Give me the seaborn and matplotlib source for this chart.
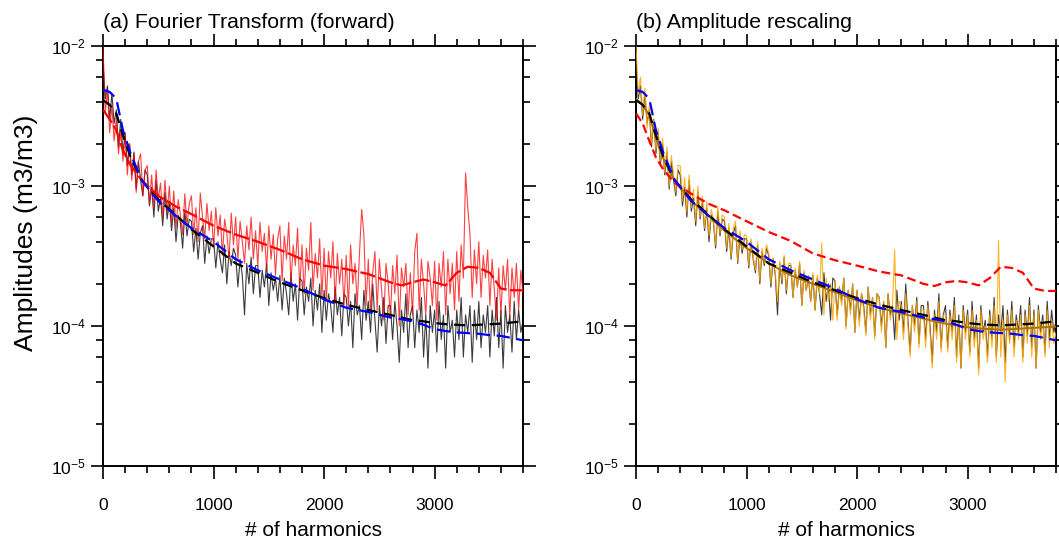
import numpy as np
import matplotlib
matplotlib.use("Agg")
import matplotlib.pyplot as plt
import seaborn as sns
from matplotlib.ticker import MultipleLocator, LogLocator, NullFormatter

# amplitudes are typed in units of 1e-5 m3/m3
UNIT = 1e-5
H_MAX = 3800

# raw spectra, read every 20 harmonics (0 .. 3800), one row = 200 harmonics
black_raw = [
    760, 420, 520, 300, 460, 280, 350, 190, 300, 170,
    240, 140, 200, 120, 175, 95, 150, 110, 85, 130,
    120, 72, 98, 60, 110, 66, 82, 52, 90, 58,
    78, 48, 70, 40, 62, 55, 36, 66, 44, 58,
    56, 34, 50, 30, 46, 52, 28, 44, 33, 42,
    42, 26, 40, 30, 24, 38, 20, 34, 27, 36,
    32, 19, 30, 23, 12, 28, 20, 31, 17, 27,
    27, 16, 25, 19, 28, 14, 24, 18, 22, 15,
    23, 13, 22, 17, 12, 24, 15, 20, 11, 22,
    21, 12, 19, 15, 22, 10, 18, 13, 20, 9,
    18, 11, 17, 14, 9, 19, 12, 16, 8.5, 17,
    16, 10, 15, 7, 17, 12, 14, 8, 18, 11,
    15, 9, 20, 11, 6.5, 14, 10, 16, 7.5, 14,
    14, 8, 15, 10, 5.5, 13, 9, 17, 7, 12,
    14, 7, 13, 9, 16, 6, 12, 5, 14, 9,
    13, 6.5, 15, 8, 12, 5, 14, 9, 11, 6,
    13, 8, 16, 6, 12, 9, 14, 5.5, 13, 8,
    15, 7, 12, 9, 14, 6, 13, 8.5, 16, 7,
    13, 5, 14, 9, 12, 6.5, 15, 8, 13, 9,
    11,
]
red_raw = [
    1000, 330, 480, 240, 380, 210, 300, 170, 250, 150,
    230, 120, 200, 110, 170, 90, 150, 170, 85, 130,
    140, 75, 120, 68, 130, 80, 105, 60, 110, 65,
    100, 55, 92, 50, 80, 62, 45, 88, 52, 75,
    85, 45, 70, 40, 89, 60, 42, 75, 48, 66,
    36, 70, 44, 62, 32, 58, 46, 30, 64, 38,
    60, 30, 56, 40, 28, 52, 35, 60, 30, 48,
    27, 55, 34, 46, 25, 52, 30, 45, 23, 42,
    52, 21, 44, 30, 55, 20, 38, 27, 50, 18,
    38, 17, 36, 25, 55, 18, 33, 22, 42, 16,
    36, 15, 34, 22, 40, 14.5, 33, 20, 30, 14,
    32, 13.5, 38, 20, 28, 14, 33, 68, 45, 14,
    30, 12.5, 24, 34, 13, 30, 18, 11, 28, 20,
    11.5, 27, 17, 32, 10, 26, 19, 28, 12, 24,
    12, 34, 46, 13, 30, 20, 12, 29, 22, 14,
    29, 11, 28, 19, 34, 12, 30, 17, 28, 13,
    34, 15, 38, 22, 124, 70, 45, 16, 35, 20,
    40, 16, 32, 22, 35, 14, 30, 18, 11, 26,
    12, 27, 18, 30, 11.5, 26, 16, 28, 13, 25,
    17,
]
orange_raw = [
    1000, 450, 600, 320, 500, 260, 380, 200, 300, 180,
    260, 150, 220, 125, 190, 100, 165, 120, 90, 140,
    140, 78, 115, 65, 120, 70, 95, 56, 100, 60,
    85, 50, 78, 44, 68, 58, 38, 72, 46, 62,
    60, 36, 54, 31, 50, 56, 29, 48, 35, 45,
    44, 27, 42, 31, 25, 40, 21, 36, 28, 38,
    33, 20, 31, 24, 15, 29, 21, 32, 18, 28,
    28, 16, 26, 19, 29, 14, 25, 18, 23, 15,
    24, 13, 23, 17, 39, 12, 22, 15, 20, 11,
    21, 11, 19, 14, 22, 9.5, 18, 12, 20, 9,
    18, 10, 17, 13, 8.5, 19, 11, 16, 8, 17,
    16, 9, 15, 7, 17, 11, 14, 35, 8, 15,
    14, 8, 17, 10, 6, 14, 9, 15, 7, 13,
    13, 7, 14, 9, 5, 12, 8, 15, 6.5, 12,
    12, 6.5, 12, 8, 14, 5.5, 11, 5, 13, 8,
    12, 6, 13, 7, 11, 4.5, 13, 8, 10, 5.5,
    12, 7, 14, 5.5, 41, 6, 11, 4, 12, 7.5,
    13, 6, 11, 8, 12, 5.5, 12, 7.5, 14, 6,
    12, 5, 13, 8, 11, 6, 13, 7, 11, 7.5,
    9,
]

# smoothed curves
smooth_h = [0, 60, 120, 180, 250, 350, 500, 650, 800, 1000, 1200, 1400, 1600,
            1800, 2000, 2200, 2400, 2600, 2700, 2800, 2900, 3000, 3100, 3200,
            3300, 3400, 3500, 3600, 3700, 3800]
blue_smooth = [485, 470, 420, 250, 170, 110, 78, 62, 50, 40, 30, 25, 21.5,
               18.5, 15.5, 13.5, 12.6, 11.5, 11.2, 10.8, 10.2, 9.5, 9.2, 9.0,
               8.9, 8.8, 8.6, 8.5, 8.2, 7.9]
black_smooth = [410, 380, 330, 230, 160, 110, 80, 63, 49, 37, 28, 24, 20.5,
                18, 15.8, 14.2, 13, 12, 11.5, 11, 10.8, 10.5, 10.3, 10.2,
                10.1, 10.2, 10.3, 10.4, 10.6, 10.8]
red_smooth_a = [350, 300, 250, 180, 140, 110, 85, 72, 63, 52, 45, 40, 35,
                30, 27, 25.5, 23.5, 20.5, 19.5, 20.5, 21.5, 20.5, 19.5, 24,
                26.5, 26, 24, 18.5, 18, 18]
red_smooth_b = [330, 280, 210, 160, 130, 105, 88, 75, 67, 56, 47, 40.5, 33,
                29.5, 27, 24.5, 23, 20, 19.3, 20.5, 21, 20.5, 19.5, 22,
                26.5, 26, 24, 18.5, 17.8, 17.8]
orange_smooth = [420, 380, 320, 220, 155, 108, 78, 62, 48, 36, 28, 23, 20,
                 17.5, 15.2, 13.5, 12.3, 11.3, 10.8, 10.4, 10.1, 9.8, 9.6, 9.5,
                 9.4, 9.5, 9.6, 9.7, 9.8, 9.9]

titles = ["(a) Fourier Transform (forward)", "(b) Amplitude rescaling"]


def amp(vals):
    return np.asarray(vals, dtype=float) * UNIT


def raw_h(vals):
    return np.linspace(0, H_MAX, len(vals))


def draw(ax, x, y, color, lw, ls="-", alpha=1.0, z=2):
    sns.lineplot(x=x, y=amp(y), ax=ax, color=color, linewidth=lw,
                 linestyle=ls, alpha=alpha, zorder=z, estimator=None, sort=False)


sns.set_theme(style="ticks")
plt.rcParams["font.family"] = ["Liberation Sans", "DejaVu Sans"]
plt.rcParams["axes.linewidth"] = 1.4
for key in ["text.color", "axes.labelcolor", "xtick.color", "ytick.color",
            "axes.edgecolor"]:
    plt.rcParams[key] = "black"

fig = plt.figure(figsize=(10.59, 5.44), dpi=100)
ax_a = fig.add_axes([0.0973, 0.1434, 0.3966, 0.772])
ax_b = fig.add_axes([0.6006, 0.1434, 0.3966, 0.772])

# panel a
draw(ax_a, raw_h(black_raw), black_raw, "#1a1a1a", 0.8, alpha=0.85, z=2)
draw(ax_a, raw_h(red_raw), red_raw, "#ff0000", 0.8, alpha=0.75, z=3)
draw(ax_a, smooth_h, black_smooth, "black", 1.6, ls=(0, (5, 3)), z=4)
draw(ax_a, smooth_h, red_smooth_a, "#ff0000", 1.6, ls=(0, (7, 1.5)), z=4)
draw(ax_a, smooth_h, blue_smooth, "#0000ff", 1.6, ls=(0, (6, 3)), z=5)

# panel b
draw(ax_b, raw_h(black_raw), black_raw, "#1a1a1a", 0.8, alpha=0.85, z=2)
draw(ax_b, raw_h(orange_raw), orange_raw, "#ffa500", 0.8, alpha=0.85, z=3)
draw(ax_b, smooth_h, orange_smooth, "#b07000", 1.4, z=4)
draw(ax_b, smooth_h, black_smooth, "black", 1.6, ls=(0, (5, 3)), z=4)
draw(ax_b, smooth_h, red_smooth_b, "#ff0000", 1.6, ls=(0, (4, 2)), z=5)
draw(ax_b, smooth_h, blue_smooth, "#0000ff", 1.6, ls=(0, (6, 3)), z=5)

for ax, title in zip([ax_a, ax_b], titles):
    ax.set_yscale("log")
    ax.set_ylim(1e-5, 1e-2)
    ax.set_xlim(0, H_MAX)
    ax.xaxis.set_major_locator(MultipleLocator(1000))
    ax.xaxis.set_minor_locator(MultipleLocator(200))
    ax.yaxis.set_major_locator(LogLocator(base=10, numticks=10))
    ax.yaxis.set_minor_locator(LogLocator(base=10, subs=[2, 4, 6, 8], numticks=10))
    ax.yaxis.set_minor_formatter(NullFormatter())
    ax.tick_params(which="both", direction="out", top=True, right=True,
                   labelsize=12.5, width=1.2)
    ax.tick_params(which="major", length=9)
    ax.tick_params(which="minor", length=5)
    ax.tick_params(axis="x", which="major", pad=14)
    ax.set_title(title, loc="left", fontsize=15.3, pad=13)
    ax.set_xlabel("# of harmonics", fontsize=15, labelpad=6)
    ax.set_ylabel("")

ax_a.set_ylabel("Amplitudes (m3/m3)", fontsize=19)
ax_a.yaxis.set_label_coords(-0.155, 0.555)

fig.savefig("out.png", dpi=100)
